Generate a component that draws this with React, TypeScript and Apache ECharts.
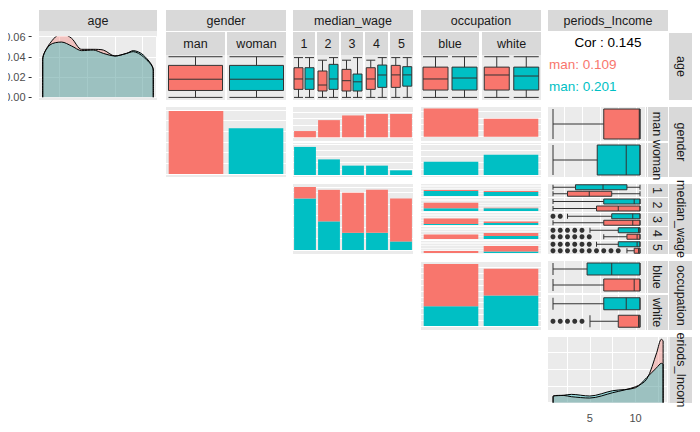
import { useEffect, useRef } from "react";
import * as echarts from "echarts";

const PINK = "#F8766D";
const TEAL = "#00BFC4";
const PANEL = "#EBEBEB";
const STRIP = "#D9D9D9";

const genders = ["man", "woman"];
const wages = ["1", "2", "3", "4", "5"];
const occupations = ["blue", "white"];

// age density per gender
const ageDensityMan = [[24, 0], [24, 0.0376], [26.6, 0.0534], [30.8, 0.0633], [34.4, 0.0584], [38, 0.0475], [42.2, 0.0475], [45.8, 0.0468], [50, 0.0409], [54.2, 0.0435], [56.6, 0.0452], [60.2, 0.0402], [63.8, 0.027], [63.8, 0]];
const ageDensityWoman = [[24, 0], [24, 0.0376], [26.6, 0.0518], [30.8, 0.0547], [34.4, 0.0508], [38, 0.0462], [42.2, 0.0468], [45.8, 0.0435], [50, 0.0409], [54.2, 0.0435], [56.6, 0.0462], [60.2, 0.0419], [63.8, 0.027], [63.8, 0]];

// age boxplots [min, q1, median, q3, max]
const ageBoxMan = [18, 26, 39, 55, 65];
const ageBoxWoman = [18, 26, 39, 55, 65];
const ageBoxWageMan = [[18, 27.3, 39.3, 52.3, 64], [18, 25.4, 32.3, 48.5, 61], [18, 25.4, 37.3, 50.4, 61], [18, 27.3, 39.3, 52.3, 61], [18, 29.6, 44, 55, 64]];
const ageBoxWageWoman = [[18, 27.3, 39.3, 52.3, 64], [18, 27.3, 39.3, 56.2, 64], [18, 25.4, 36, 45, 64], [18, 29.6, 43.9, 55.4, 64], [18, 31, 44, 53.5, 64]];
const ageBoxOccMan = [[18, 26.5, 39.3, 53, 65], [18, 26.5, 43.9, 53, 65]];
const ageBoxOccWoman = [[18, 26.5, 40.4, 53, 65], [18, 26.5, 42.7, 53, 65]];

// counts
const genderCount = [59, 43];
const wageCountMan = [4, 11, 14, 15, 15];
const wageCountWoman = [18, 10, 6, 6, 3];
const occCountMan = [36, 23];
const occCountWoman = [17, 26];
const occWageMan = [[2, 2], [10, 1], [11, 3], [9, 6], [4, 11]];
const occWageWoman = [[10, 8], [5, 5], [2, 4], [0, 6], [0, 3]];

// periods_Income boxplots
const incomeBoxMan = [1, 8, 12.9, 13, 13];
const incomeBoxWoman = [1, 7.1, 11.1, 13, 13];
const incomeWageMan = [[1, 3, 6, 9.1, 13], [1, 7, 10, 13, 13], [1, 8, 12, 13, 13], [8, 11.2, 12.6, 13, 13], [11.2, 12.2, 12.8, 13, 13]];
const incomeWageWoman = [[1, 4.1, 7.9, 11.2, 13], [1, 8, 12.2, 13, 13], [3, 9.1, 12, 13, 13], [6.1, 10, 12.8, 13, 13], [7, 10, 12.6, 13, 13]];
const incomeWageOutMan = [[], [], [], [1, 2, 3, 4, 5, 6], [1, 2, 3, 4, 5, 6, 7, 8, 9, 10]];
const incomeWageOutWoman = [[], [], [1, 2], [1, 2, 3, 4, 5], [1, 2, 3, 4, 5, 6]];
const incomeOccMan = [[1, 8, 12.2, 13, 13], [6.1, 10, 12.8, 13, 13]];
const incomeOccWoman = [[1, 5.7, 9.1, 13, 13], [1, 8, 11.1, 13, 13]];
const incomeOccOutMan = [[], [1, 2, 3, 4, 5]];

// periods_Income density per gender
const incomeDensityMan = [[1, 0], [1, 0.02], [2.1, 0.022], [3, 0.018], [5, 0.014], [7.5, 0.03], [10, 0.048], [11.2, 0.07], [12.3, 0.15], [12.8, 0.19], [13, 0.185], [13, 0]];
const incomeDensityWoman = [[1, 0], [1, 0.018], [2.1, 0.022], [3, 0.025], [5, 0.02], [7.5, 0.036], [10, 0.045], [11.2, 0.075], [12.3, 0.105], [12.8, 0.118], [13, 0.115], [13, 0]];

const corAll = "Cor : 0.145";
const corMan = "man: 0.109";
const corWoman = "man: 0.201";

function buildOption() {
  const grid: any[] = [];
  const xAxis: any[] = [];
  const yAxis: any[] = [];
  const series: any[] = [];
  const graphic: any[] = [];
  const white = { show: true, lineStyle: { color: "#fff", width: 1 } };
  const base = { axisLine: { show: false }, axisTick: { show: false }, axisLabel: { show: false }, splitLine: { show: false } };

  const bg = (x1: number, y1: number, x2: number, y2: number, fill = PANEL) =>
    graphic.push({ type: "rect", z: -1, shape: { x: x1, y: y1, width: x2 - x1, height: y2 - y1 }, style: { fill } });
  const strip = (x1: number, y1: number, x2: number, y2: number, text: string, vertical = false) => {
    bg(x1, y1, x2, y2, STRIP);
    graphic.push({
      type: "text", z: 5, x: (x1 + x2) / 2, y: (y1 + y2) / 2, rotation: vertical ? -Math.PI / 2 : 0,
      style: { text, fill: "#1A1A1A", font: "12.5px 'Liberation Sans'", textAlign: "center", textVerticalAlign: "middle" },
    });
  };
  const addGrid = (l: number, t: number, r: number, b: number, x: any, y: any) => {
    const i = grid.length;
    grid.push({ left: l, top: t, width: r - l, height: b - t });
    xAxis.push({ gridIndex: i, ...base, ...x });
    yAxis.push({ gridIndex: i, ...base, ...y });
    return i;
  };
  const box = (g: number, data: number[][], colors: string[], w: number) =>
    series.push({
      type: "boxplot", xAxisIndex: g, yAxisIndex: g, boxWidth: [w, w],
      data: data.map((d, i) => ({ value: d, itemStyle: { color: colors[i], borderColor: "#333", borderWidth: 1 } })),
    });
  const outl = (g: number, pts: number[][]) =>
    series.push({ type: "scatter", xAxisIndex: g, yAxisIndex: g, symbolSize: 5, itemStyle: { color: "#333", opacity: 1 }, data: pts });
  const bars = (g: number, stacks: { data: number[]; color: string }[], gap = "18%") =>
    stacks.forEach((s) =>
      series.push({ type: "bar", xAxisIndex: g, yAxisIndex: g, stack: "s" + g, barCategoryGap: gap, itemStyle: { color: s.color }, data: s.data })
    );
  const density = (g: number, a: number[][], b: number[][]) =>
    [[a, PINK], [b, TEAL]].forEach(([d, c]: any) =>
      series.push({
        type: "line", xAxisIndex: g, yAxisIndex: g, data: d, smooth: 0.3, symbol: "none",
        lineStyle: { color: "#000", width: 1 }, areaStyle: { color: c, opacity: 0.35 },
      })
    );

  // column strips
  strip(39, 10, 157, 31, "age");
  strip(166, 10, 286, 31, "gender");
  strip(293, 10, 413, 31, "median_wage");
  strip(421, 10, 541, 31, "occupation");
  strip(548, 10, 668, 31, "periods_Income");
  strip(166, 32, 225, 55, genders[0]);
  strip(227, 32, 286, 55, genders[1]);
  const wageCols = [[293, 315], [317, 339], [341, 363], [365, 388], [390, 413]];
  wageCols.forEach(([a, b], i) => strip(a, 32, b, 55, wages[i]));
  const occCols = [[421, 479], [482, 541]];
  occCols.forEach(([a, b], i) => strip(a, 32, b, 55, occupations[i]));

  // row strips
  strip(669, 33, 692, 100, "age", true);
  const gRows = [[107, 141], [143, 177]];
  gRows.forEach(([a, b], i) => strip(646, a, 668, b, genders[i], true));
  strip(669, 107, 692, 177, "gender", true);
  const wRows = [[184, 197], [198, 212], [213, 226], [227, 240], [241, 254]];
  wRows.forEach(([a, b], i) => strip(646, a, 668, b, wages[i], true));
  strip(669, 184, 692, 254, "median_wage", true);
  const oRows = [[261, 293], [295, 330]];
  oRows.forEach(([a, b], i) => strip(646, a, 668, b, occupations[i], true));
  strip(669, 261, 692, 330, "occupation", true);
  strip(670, 337, 692, 403, "eriods_Incom", true);

  // row 1
  bg(39, 31, 157, 100);
  let g = addGrid(31.6, 36.7, 156.6, 97.3,
    { type: "value", min: 20, max: 65, interval: 10, splitLine: white },
    {
      type: "value", min: 0, max: 0.06, interval: 0.02, splitLine: white,
      axisTick: { show: true, length: 3, lineStyle: { color: "#333" } },
      axisLabel: { show: true, color: "#4D4D4D", fontSize: 11, fontFamily: "Liberation Sans", margin: 6, formatter: (v: number) => v.toFixed(2) },
    });
  density(g, ageDensityMan, ageDensityWoman);

  const ageY = { type: "value", min: 15, max: 67 };
  [[166, 225, ageBoxMan, PINK], [227, 286, ageBoxWoman, TEAL]].forEach(([a, b, d, c]: any) => {
    bg(a, 55, b, 100);
    const gi = addGrid(a, 55, b, 100, { type: "category", data: ["x"] }, ageY);
    box(gi, [d], [c], 54);
  });
  wageCols.forEach(([a, b], i) => {
    bg(a, 55, b, 100);
    const gi = addGrid(a, 55, b, 100, { type: "category", data: genders }, ageY);
    box(gi, [ageBoxWageMan[i], ageBoxWageWoman[i]], [PINK, TEAL], 9);
  });
  occCols.forEach(([a, b], i) => {
    bg(a, 55, b, 100);
    const gi = addGrid(a, 55, b, 100, { type: "category", data: genders }, ageY);
    box(gi, [ageBoxOccMan[i], ageBoxOccWoman[i]], [PINK, TEAL], 25);
  });
  graphic.push({ type: "text", x: 608, y: 42, style: { text: corAll, fill: "#000", font: "13.5px 'Liberation Sans'", textAlign: "center", textVerticalAlign: "middle" } });
  graphic.push({ type: "text", x: 549, y: 64, style: { text: corMan, fill: PINK, font: "13.5px 'Liberation Sans'", textVerticalAlign: "middle" } });
  graphic.push({ type: "text", x: 549, y: 86, style: { text: corWoman, fill: TEAL, font: "13.5px 'Liberation Sans'", textVerticalAlign: "middle" } });

  // row 2
  bg(166, 107, 286, 177);
  g = addGrid(166, 110, 286, 174, { type: "category", data: genders },
    { type: "value", min: 0, max: 60, interval: 10, splitLine: white });
  series.push({
    type: "bar", xAxisIndex: g, yAxisIndex: g, barCategoryGap: "9%",
    data: genderCount.map((v, i) => ({ value: v, itemStyle: { color: i ? TEAL : PINK } })),
  });
  [[107, 137.3, wageCountMan, PINK], [143, 175, wageCountWoman, TEAL]].forEach(([t, b, d, c]: any, k) => {
    bg(293, gRows[k][0], 413, gRows[k][1]);
    const gi = addGrid(293, b - 31.2, 413, b, { type: "category", data: wages },
      { type: "value", min: 0, max: 20, interval: 4, splitLine: white });
    bars(gi, [{ data: d, color: c }], "9%");
  });
  [[136.7, occCountMan, PINK], [175, occCountWoman, TEAL]].forEach(([b, d, c]: any, k) => {
    bg(421, gRows[k][0], 541, gRows[k][1]);
    const gi = addGrid(421, b - 31.2, 541, b, { type: "category", data: occupations },
      { type: "value", min: 0, max: 40, interval: 8, splitLine: white });
    bars(gi, [{ data: d, color: c }], "9%");
  });
  const incX = { type: "value", min: 0, max: 14, interval: 2.5, splitLine: white };
  [[incomeBoxMan, PINK], [incomeBoxWoman, TEAL]].forEach(([d, c]: any, k) => {
    bg(548, gRows[k][0], 645, gRows[k][1]);
    const gi = addGrid(545.75, gRows[k][0], 647.25, gRows[k][1], incX, { type: "category", data: ["x"] });
    box(gi, [d], [c], 30);
  });

  // row 3
  bg(293, 184, 413, 254);
  g = addGrid(293, 187, 413, 250, { type: "category", data: wages },
    { type: "value", min: 0, max: 22, interval: 4, splitLine: white });
  bars(g, [{ data: wageCountWoman, color: TEAL }, { data: wageCountMan, color: PINK }], "9%");
  wRows.forEach(([a, b], i) => {
    bg(421, a, 541, b);
    const gi = addGrid(421, a + 1, 541, b - 1, { type: "category", data: occupations },
      { type: "value", min: 0, max: 22, interval: 5, splitLine: { show: true, lineStyle: { color: "#F7F7F7" } } });
    bars(gi, [{ data: occWageWoman[i], color: TEAL }, { data: occWageMan[i], color: PINK }], "9%");
    bg(548, a, 645, b);
    const gj = addGrid(545.75, a, 647.25, b, incX, { type: "category", data: genders });
    box(gj, [incomeWageMan[i], incomeWageWoman[i]], [PINK, TEAL], 5);
    outl(gj, [...incomeWageOutMan[i].map((v) => [v, 0]), ...incomeWageOutWoman[i].map((v) => [v, 1])]);
  });

  // row 4
  bg(421, 261, 541, 330);
  g = addGrid(421, 261.7, 541, 326, { type: "category", data: occupations },
    { type: "value", min: 0, max: 55, interval: 5, splitLine: white });
  bars(g, [{ data: occCountWoman, color: TEAL }, { data: occCountMan, color: PINK }], "9%");
  oRows.forEach(([a, b], i) => {
    bg(548, a, 645, b);
    const gi = addGrid(545.75, a, 647.25, b, incX, { type: "category", data: genders });
    box(gi, [incomeOccMan[i], incomeOccWoman[i]], [PINK, TEAL], 12);
    outl(gi, incomeOccOutMan[i].map((v) => [v, 0]));
  });

  // row 5
  bg(548, 337, 670, 403);
  g = addGrid(543.9, 336, 667.7, 402.7,
    {
      type: "value", min: 0, max: 13.5, interval: 2.5, splitLine: white,
      axisLabel: { show: true, color: "#4D4D4D", fontSize: 11, fontFamily: "Liberation Sans", margin: 10, formatter: (v: number) => (v === 5 || v === 10 ? String(v) : "") },
    },
    { type: "value", min: 0, max: 0.2, interval: 0.05, splitLine: white });
  density(g, incomeDensityMan, incomeDensityWoman);

  return { animation: false, grid, xAxis, yAxis, series, graphic };
}

export default function App() {
  const ref = useRef<HTMLDivElement>(null);
  useEffect(() => {
    const chart = echarts.init(ref.current, null, { renderer: "svg" });
    chart.setOption(buildOption());
    return () => chart.dispose();
  }, []);
  return <div ref={ref} style={{ width: 700, height: 432, margin: -8 }} />;
}
